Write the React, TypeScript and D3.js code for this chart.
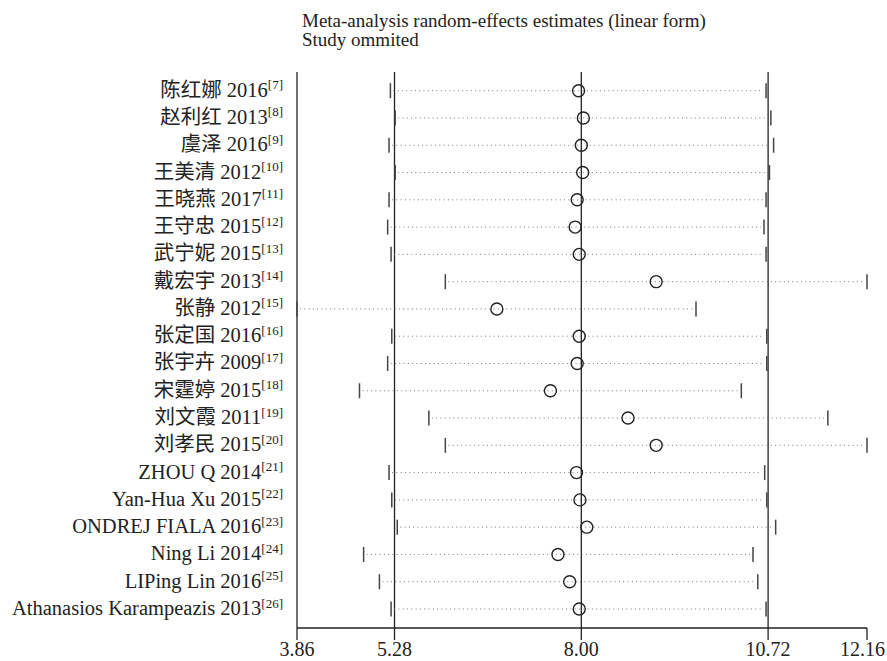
import React from "react";
import * as d3 from "d3";

// study omitted, reference number
const studies = [
  "陈红娜 2016", "赵利红 2013", "虞泽 2016", "王美清 2012", "王晓燕 2017",
  "王守忠 2015", "武宁妮 2015", "戴宏宇 2013", "张静 2012", "张定国 2016",
  "张宇卉 2009", "宋霆婷 2015", "刘文霞 2011", "刘孝民 2015", "ZHOU Q 2014",
  "Yan-Hua Xu 2015", "ONDREJ FIALA 2016", "Ning Li 2014", "LIPing Lin 2016",
  "Athanasios Karampeazis 2013",
];
const refs = [7, 8, 9, 10, 11, 12, 13, 14, 15, 16, 17, 18, 19, 20, 21, 22, 23, 24, 25, 26];

const estimate = [7.96, 8.03, 8.0, 8.02, 7.94, 7.91, 7.97, 9.09, 6.77, 7.97,
  7.94, 7.55, 8.68, 9.09, 7.93, 7.98, 8.08, 7.66, 7.83, 7.97];
const lower = [5.22, 5.29, 5.2, 5.29, 5.2, 5.18, 5.23, 6.02, 3.86, 5.24,
  5.18, 4.77, 5.78, 6.02, 5.2, 5.24, 5.32, 4.83, 5.06, 5.23];
const upper = [10.69, 10.76, 10.8, 10.74, 10.69, 10.66, 10.69, 12.16, 9.67, 10.7,
  10.7, 10.33, 11.59, 12.16, 10.67, 10.7, 10.83, 10.5, 10.57, 10.69];

const tickValues = [3.86, 5.28, 8.0, 10.72, 12.16];
const refLines = [3.86, 5.28, 8.0, 10.72];

const titleLines = ["Meta-analysis random-effects estimates (linear form)", "Study ommited"];

const W = 887, H = 661;
const font = '"Liberation Serif", "Noto Sans CJK SC", serif';

export default function App() {
  const x = d3.scaleLinear().domain([3.86, 12.16]).range([297, 867]);
  const y = d3.scalePoint().domain(studies).range([90.7, 609]);
  const axisY = 628;
  const top = 72;

  return (
    <svg width={W} height={H} style={{ position: "absolute", left: 0, top: 0, background: "#fff" }}
      fontFamily={font}>
      {titleLines.map((t, i) => (
        <text key={t} x={302} y={27 + i * 19} fontSize={19} fill="#222">{t}</text>
      ))}

      {/* reference lines */}
      {refLines.map((v) => (
        <line key={v} x1={x(v)} x2={x(v)} y1={top} y2={axisY + 12} stroke="#222" strokeWidth={1.3} />
      ))}
      <line x1={x(12.16)} x2={x(12.16)} y1={axisY} y2={axisY + 12} stroke="#222" strokeWidth={1.3} />
      <line x1={x(3.86)} x2={x(12.16)} y1={axisY} y2={axisY} stroke="#222" strokeWidth={1.3} />

      {tickValues.map((v, i) => {
        // last label sits flush against the right edge, as in the original
        const last = i === tickValues.length - 1;
        return (
          <text key={v} x={last ? W - 2 : x(v)} y={656} fontSize={20}
            textAnchor={last ? "end" : "middle"} fill="#222">
            {d3.format(".2f")(v)}
          </text>
        );
      })}

      {studies.map((s, i) => {
        const cy = y(s) as number;
        return (
          <g key={s}>
            <text x={283} y={cy + 6} fontSize={20.5} textAnchor="end" fill="#222">
              <tspan>{s}</tspan>
              <tspan dy={-7.5} fontSize={13}>{"[" + refs[i] + "]"}</tspan>
            </text>
            <line x1={x(lower[i]) + 3} x2={x(upper[i]) - 3} y1={cy} y2={cy}
              stroke="#777" strokeWidth={1} strokeDasharray="1,3.3" />
            <line x1={x(lower[i])} x2={x(lower[i])} y1={cy - 7.5} y2={cy + 7.5} stroke="#444" strokeWidth={1.5} />
            <line x1={x(upper[i])} x2={x(upper[i])} y1={cy - 7.5} y2={cy + 7.5} stroke="#444" strokeWidth={1.5} />
            <circle cx={x(estimate[i])} cy={cy} r={6} fill="none" stroke="#222" strokeWidth={1.4} />
          </g>
        );
      })}
    </svg>
  );
}
